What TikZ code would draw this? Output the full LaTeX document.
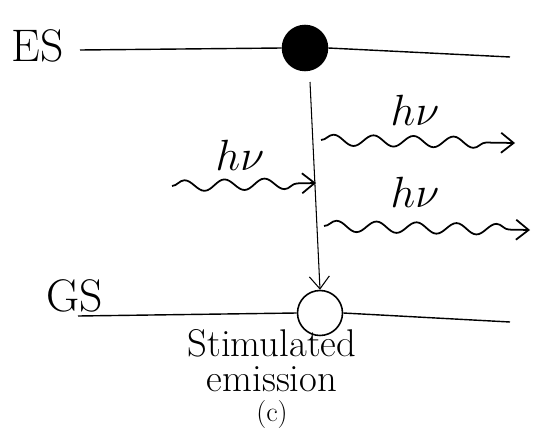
\documentclass[tikz,border=0pt]{standalone}
\usepackage{tikz}
\usetikzlibrary{positioning,arrows.meta,decorations.pathmorphing}
\begin{document}
\begin{tikzpicture}[x=0.02cm, y=-0.02cm,
  every node/.append style={font=\fontsize{26}{30}\selectfont},
  level/.style={line width=0.8pt},
  atom/.style={circle, draw, line width=0.9pt, minimum size=0.9cm, inner sep=0pt},
  photon/.style={decorate, decoration={snake, amplitude=1.1mm, segment length=8mm, post length=2mm},
    line width=1pt, -{Straight Barb[length=2.5mm, width=4mm]}},
  caption/.style={font=\fontsize{22}{20}\selectfont, inner sep=0pt, align=center}
]
\useasboundingbox (0,0) rectangle (537,436);
% atoms on the two levels
\node[atom, fill=black] (ex) at (305,48) {};
\node[atom] (gr) at (320,313) {};
\node (es) at (38,46) {ES};
\node (gs) at (75,296) {GS};
\coordinate (esl) at (80,50);
\coordinate (esr) at (510,57);
\coordinate (gsl) at (78,316);
\coordinate (gsr) at (510,322);
\draw[level] (esl) -- (ex.west);
\draw[level] (ex.east) -- (esr);
\draw[level] (gsl) -- (gr.west);
\draw[level] (gr.east) -- (gsr);
% transition
\coordinate (top) at (310,82);
\coordinate (hit) at (316,183);
\draw[line width=0.6pt, -{Straight Barb[length=2.5mm, width=4mm]}] (top) -- (gr.north);
% photons
\coordinate (in) at (172,186);
\coordinate (outa) at (321,140);
\coordinate (enda) at (515,143);
\coordinate (outb) at (324,226);
\coordinate (endb) at (530,230);
\draw[photon] (in) -- (hit);
\draw[photon] (outa) -- (enda);
\draw[photon] (outb) -- (endb);
\node (hin) at (240,155) {$h\nu$};
\node (hta) at (415,110) {$h\nu$};
\node (htb) at (415,192) {$h\nu$};
% caption
\node[caption, anchor=north] (stim) at (272,329) {Stimulated\\emission\\[-3pt]{\fontsize{16}{18}\selectfont (c)}};
\end{tikzpicture}
\end{document}
